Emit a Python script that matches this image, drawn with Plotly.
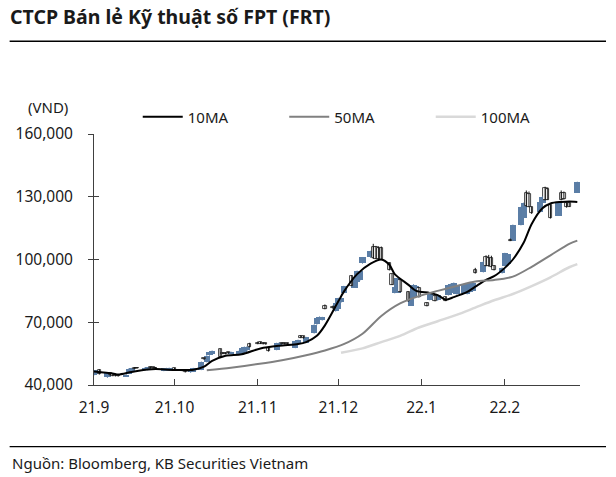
import pandas as pd
import numpy as np
import plotly.graph_objects as go

# ---------------- data (thousand VND) ----------------
dates = pd.bdate_range("2021-09-01", "2022-02-28")

opens = [44.8, 45.5, 47.3,
         43.6, 45.6, 45.2, 45.0, 44.8,
         44.3, 45.5, 46.0, 48.3, 48.2,
         47.0, 47.2, 48.5, 48.4, 48.3,
         46.8, 46.9, 47.0, 46.9, 48.0,
         47.3, 46.8, 46.9, 46.0, 46.4,
         47.3, 52.8, 51.0, 54.2, 54.6,
         57.0, 55.5, 55.4, 55.6, 55.0,
         54.6, 55.2, 55.8, 56.5, 59.8,
         60.3, 60.4, 60.2, 60.0, 57.8,
         56.8, 58.5, 60.2, 60.1, 60.0,
         57.8, 59.5, 63.4, 63.2, 60.2,
         64.8, 69.0, 71.2, 71.0, 77.8,
         77.5, 75.3, 76.5, 79.5, 84.0,
         92.0, 86.6, 89.2, 90.0, 98.4,
         101.0, 106.0, 105.8, 105.6, 105.5,
         98.4, 93.0, 84.0, 84.2, 90.0,
         84.5, 78.0, 82.0, 82.5, 86.6,
         79.3, 80.7, 81.0, 82.5, 80.5,
         82.0, 83.0, 84.0, 84.5, 83.5,
         84.0, 83.5, 84.5, 85.0, 95.0,
         94.0, 101.0, 100.8, 100.5, 97.0,
         93.5, 97.0, 98.0, 109.5, 109.0,
         116.5, 120.0, 132.0, 131.5, 125.0,
         122.5, 127.0, 134.0, 133.8, 126.0,
         121.0, 132.0, 131.8, 127.0, 127.0,
         132.0]
closes = [46.9, 47.0, 45.2,
          46.0, 44.6, 44.5, 44.4, 44.2,
          45.0, 47.8, 48.0, 47.8, 47.9,
          48.3, 48.4, 48.2, 48.1, 47.9,
          47.9, 48.0, 48.1, 48.0, 47.3,
          46.8, 46.2, 46.6, 47.6, 48.0,
          51.0, 52.2, 54.0, 55.6, 56.2,
          53.2, 55.0, 54.9, 55.1, 55.8,
          56.2, 57.8, 58.2, 58.4, 58.2,
          59.7, 59.8, 59.6, 59.4, 56.2,
          60.0, 60.3, 59.7, 59.6, 59.5,
          61.0, 61.5, 62.6, 62.4, 62.8,
          68.8, 72.0, 72.6, 72.4, 76.4,
          76.6, 79.0, 81.5, 81.7, 87.2,
          87.5, 91.5, 94.5, 94.3, 101.0,
          104.0, 100.5, 100.4, 100.2, 100.0,
          95.0, 88.0, 87.0, 91.0, 84.5,
          80.0, 84.0, 88.0, 87.5, 82.0,
          78.0, 84.0, 83.0, 80.2, 82.8,
          80.3, 88.0, 88.5, 88.8, 88.0,
          88.5, 88.0, 89.0, 89.0, 93.5,
          99.0, 97.0, 96.8, 96.5, 95.0,
          96.0, 103.0, 102.5, 109.0, 116.5,
          125.0, 127.0, 125.5, 125.2, 122.0,
          127.5, 130.0, 128.5, 128.6, 119.8,
          127.5, 128.5, 128.8, 125.0, 125.3,
          137.0]
highs = [47.1, 47.2, 47.5,
         46.2, 45.8, 45.4, 45.2, 45.0,
         45.2, 48.0, 48.2, 48.6, 48.4,
         48.5, 48.6, 48.7, 48.6, 48.5,
         48.1, 48.2, 48.3, 48.2, 48.2,
         47.5, 47.0, 47.0, 47.8, 48.2,
         51.2, 53.0, 54.2, 55.8, 56.5,
         57.3, 55.7, 55.6, 55.8, 56.0,
         56.4, 58.0, 58.4, 58.6, 60.2,
         60.8, 60.6, 60.4, 60.2, 58.0,
         60.2, 60.5, 60.4, 60.3, 60.2,
         61.2, 61.7, 63.8, 63.4, 63.0,
         69.0, 72.2, 72.8, 72.6, 78.5,
         78.0, 79.2, 81.7, 82.0, 87.4,
         92.5, 91.7, 94.7, 94.5, 101.2,
         104.2, 107.5, 106.5, 106.3, 106.2,
         98.6, 93.3, 87.2, 91.2, 90.3,
         84.8, 84.2, 88.2, 87.7, 86.8,
         79.5, 84.2, 83.2, 82.7, 83.0,
         82.2, 88.2, 88.7, 89.0, 88.2,
         88.7, 88.2, 89.2, 89.2, 96.0,
         99.2, 102.0, 102.2, 101.8, 97.3,
         96.2, 103.2, 102.7, 110.0, 116.7,
         125.2, 127.2, 133.0, 132.5, 125.3,
         127.7, 130.2, 134.8, 134.5, 126.3,
         127.7, 133.0, 132.5, 127.3, 127.3,
         137.2]
lows = [44.6, 45.3, 45.0,
        43.4, 44.4, 44.2, 44.1, 44.0,
        44.1, 45.3, 45.8, 47.6, 47.7,
        46.8, 47.0, 48.0, 47.9, 47.7,
        46.6, 46.7, 46.8, 46.7, 47.1,
        46.6, 46.0, 46.4, 45.8, 46.2,
        47.1, 52.0, 50.8, 54.0, 54.4,
        53.0, 54.8, 54.7, 54.9, 54.8,
        54.4, 55.0, 55.6, 56.3, 58.0,
        59.5, 59.6, 59.4, 59.2, 56.0,
        56.6, 58.3, 59.5, 59.4, 59.3,
        57.6, 59.3, 62.4, 62.2, 60.0,
        64.6, 68.8, 71.0, 70.8, 76.2,
        76.4, 75.1, 76.3, 79.3, 83.8,
        87.3, 86.4, 89.0, 89.8, 98.0,
        100.8, 100.3, 100.2, 100.0, 99.8,
        94.8, 87.8, 83.8, 84.0, 84.3,
        79.8, 77.8, 81.8, 82.3, 81.8,
        77.6, 80.5, 80.8, 80.0, 80.3,
        80.1, 82.8, 83.8, 84.3, 83.3,
        83.8, 83.3, 84.3, 84.8, 93.3,
        93.8, 96.8, 96.6, 96.3, 94.8,
        93.3, 96.8, 97.8, 108.8, 108.8,
        116.3, 119.8, 125.3, 125.0, 121.8,
        122.3, 126.8, 128.3, 128.4, 119.6,
        120.8, 128.3, 128.6, 124.8, 125.1,
        131.8]

ma10_dates = ["2021-09-01", "2021-09-08", "2021-09-10", "2021-09-15", "2021-09-21",
              "2021-09-24", "2021-10-01", "2021-10-08", "2021-10-12", "2021-10-15",
              "2021-10-20", "2021-10-26", "2021-11-02", "2021-11-09", "2021-11-16",
              "2021-11-19", "2021-11-23", "2021-11-26", "2021-12-01", "2021-12-03",
              "2021-12-08", "2021-12-13", "2021-12-17", "2021-12-20", "2021-12-22",
              "2021-12-27", "2021-12-30", "2022-01-04", "2022-01-07", "2022-01-10",
              "2022-01-13", "2022-01-18", "2022-01-21", "2022-01-25", "2022-01-28",
              "2022-02-01", "2022-02-04", "2022-02-08", "2022-02-11", "2022-02-15",
              "2022-02-18", "2022-02-22", "2022-02-25", "2022-02-28"]
ma10 = [46.5, 45.5, 45.0, 46.2, 47.4,
        47.6, 47.2, 47.3, 48.8, 51.5,
        54.0, 54.7, 57.5, 58.8, 59.6,
        60.5, 63.5, 68.5, 80.0, 84.5,
        93.0, 98.0, 100.0, 97.5, 93.0,
        88.0, 85.0, 84.0, 83.0, 80.8,
        82.0, 84.5, 87.0, 90.3, 92.0,
        96.0, 100.0, 108.0, 117.0, 124.5,
        126.8, 127.5, 127.7, 127.5]

ma50_dates = ["2021-10-13", "2021-10-22", "2021-11-01", "2021-11-10", "2021-11-19",
              "2021-11-26", "2021-12-03", "2021-12-10", "2021-12-17", "2021-12-24",
              "2021-12-31", "2022-01-07", "2022-01-14", "2022-01-21", "2022-01-28",
              "2022-02-04", "2022-02-11", "2022-02-18", "2022-02-25", "2022-02-28"]
ma50 = [47.0, 48.3, 50.0, 51.8, 54.2,
        56.5, 59.5, 64.5, 73.0, 79.0,
        82.5, 85.0, 87.3, 89.5, 90.2,
        91.8, 96.5, 102.0, 107.5, 109.0]

ma100_dates = ["2021-12-02", "2021-12-10", "2021-12-17", "2021-12-24", "2021-12-31",
               "2022-01-07", "2022-01-14", "2022-01-21", "2022-01-28", "2022-02-04",
               "2022-02-11", "2022-02-18", "2022-02-25", "2022-02-28"]
ma100 = [55.4, 57.5, 60.5, 63.5, 67.5,
         70.5, 73.5, 77.0, 80.5, 83.5,
         87.3, 91.5, 96.3, 97.8]

tick_dates = ["2021-09-01", "2021-10-01", "2021-11-01", "2021-12-01",
              "2022-01-01", "2022-02-01", "2022-03-01"]
tick_labels = ["21.9", "21.10", "21.11", "21.12", "22.1", "22.2", ""]
y_ticks = [40000, 70000, 100000, 130000, 160000]

UNIT = 1000
o = np.array(opens) * UNIT
c = np.array(closes) * UNIT
h = np.array(highs) * UNIT
l = np.array(lows) * UNIT

BLUE = "#5b7ea6"
FONT = "Noto Sans"
TXT = "#1a1a1a"

up = c >= o
dn = ~up

fig = go.Figure()

def wick_xy(mask):
    xs, ys = [], []
    for d, hi, lo in zip(dates[mask], h[mask], l[mask]):
        xs += [d, d, None]
        ys += [lo, hi, None]
    return xs, ys

xs, ys = wick_xy(up)
fig.add_trace(go.Scatter(x=xs, y=ys, mode="lines", line=dict(color=BLUE, width=1),
                         showlegend=False, hoverinfo="skip"))
xs, ys = wick_xy(dn)
fig.add_trace(go.Scatter(x=xs, y=ys, mode="lines", line=dict(color="#111111", width=1),
                         showlegend=False, hoverinfo="skip"))

DAY_MS = 86400000
fig.add_trace(go.Bar(x=dates[up], y=(c - o)[up], base=o[up], width=DAY_MS * 2.3,
                     marker=dict(color=BLUE, line=dict(width=0)), showlegend=False))
fig.add_trace(go.Bar(x=dates[dn], y=(o - c)[dn], base=c[dn], width=DAY_MS * 1.2,
                     marker=dict(color="white", line=dict(color="#111111", width=0.8)),
                     showlegend=False))

fig.add_trace(go.Scatter(x=ma10_dates, y=np.array(ma10) * UNIT, mode="lines", name="10MA",
                         line=dict(color="#000000", width=2, shape="spline", smoothing=0.8)))
fig.add_trace(go.Scatter(x=ma50_dates, y=np.array(ma50) * UNIT, mode="lines", name="50MA",
                         line=dict(color="#808080", width=2, shape="spline", smoothing=0.8)))
fig.add_trace(go.Scatter(x=ma100_dates, y=np.array(ma100) * UNIT, mode="lines", name="100MA",
                         line=dict(color="#d9d9d9", width=2.5, shape="spline", smoothing=0.8)))

fig.update_layout(
    width=616, height=477,
    margin=dict(l=94, r=36, t=134, b=92),
    paper_bgcolor="white", plot_bgcolor="white",
    barmode="overlay", bargap=0,
    font=dict(family=FONT, size=15, color=TXT),
    title=dict(text="<b>CTCP Bán lẻ Kỹ thuật số FPT (FRT)</b>", x=10 / 616, xanchor="left",
               y=1 - 17 / 477, yanchor="middle", font=dict(family=FONT, size=19.5, color=TXT)),
    legend=dict(orientation="h", x=0.09, xanchor="left", y=1.068, yanchor="middle",
                entrywidth=91.5, entrywidthmode="pixels", bgcolor="rgba(0,0,0,0)",
                font=dict(family=FONT, size=15, color=TXT), itemwidth=40),
    xaxis=dict(type="date", range=["2021-09-01", "2022-03-01"], tickvals=tick_dates,
               ticktext=tick_labels, ticks="inside", ticklen=6, tickcolor="#404040",
               showline=True, linecolor="#404040", linewidth=1, showgrid=False,
               zeroline=False, ticklabelstandoff=8, tickfont=dict(size=15.5, color=TXT)),
    yaxis=dict(range=[40000, 160000], tickvals=y_ticks, tickformat=",", ticks="outside",
               ticklen=5, tickcolor="#404040", showline=True, linecolor="#404040",
               linewidth=1, showgrid=False, zeroline=False, ticklabelstandoff=12,
               tickfont=dict(size=15.5, color=TXT)),
    yaxis2=dict(range=[40000, 160000], overlaying="y", tickvals=y_ticks, ticks="inside",
                ticklen=5, tickcolor="#404040", showticklabels=False, showline=False,
                showgrid=False, zeroline=False, side="left"),
    showlegend=True,
)
fig.add_trace(go.Scatter(x=[dates[0]], y=[None], yaxis="y2", showlegend=False, hoverinfo="skip"))

fig.add_annotation(text="(VND)", xref="paper", yref="paper", x=-0.0943, y=1.107,
                   xanchor="center", yanchor="middle",
                   showarrow=False, font=dict(family=FONT, size=15, color=TXT))
fig.add_annotation(text="Nguồn: Bloomberg, KB Securities Vietnam", xref="paper", yref="paper",
                   x=-0.1736, y=-0.3092, xanchor="left", yanchor="middle", showarrow=False,
                   font=dict(family=FONT, size=15, color=TXT))
fig.add_shape(type="line", xref="paper", yref="paper", x0=-0.1736, x1=1.0535, y0=1.370, y1=1.370,
              line=dict(color="#000000", width=1.5))
fig.add_shape(type="line", xref="paper", yref="paper", x0=-0.1736, x1=1.0535, y0=-0.2455, y1=-0.2455,
              line=dict(color="#000000", width=1.2))

fig.write_html("out.html", config={"displayModeBar": False},
               post_script="document.body.style.margin='0';")
